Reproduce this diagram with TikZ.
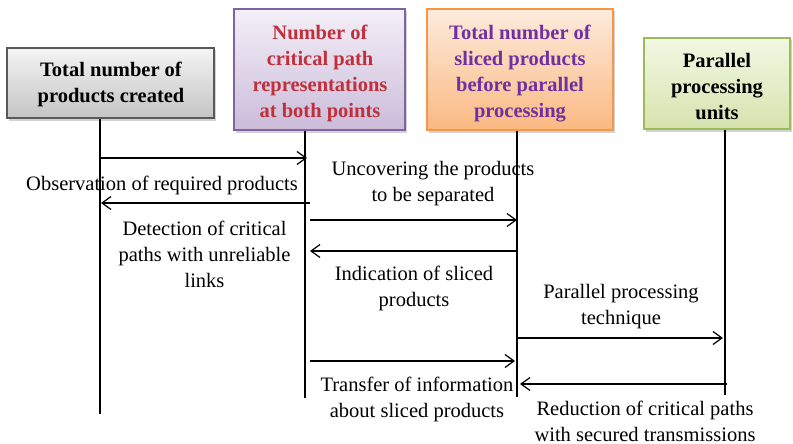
\documentclass[tikz,border=0pt]{standalone}
\usepackage{fontspec}
\setmainfont{Liberation Serif}
\usetikzlibrary{arrows.meta,shadows}
\definecolor{gbord}{HTML}{595959}
\definecolor{gtop}{HTML}{F4F4F4}
\definecolor{gbot}{HTML}{C4C4C4}
\definecolor{pbord}{HTML}{8064A2}
\definecolor{ptop}{HTML}{F4EFF7}
\definecolor{pbot}{HTML}{CBBCDA}
\definecolor{obord}{HTML}{F79646}
\definecolor{otop}{HTML}{FDEBDD}
\definecolor{obot}{HTML}{FAB982}
\definecolor{lbord}{HTML}{9BBB59}
\definecolor{ltop}{HTML}{F3F8E3}
\definecolor{lbot}{HTML}{D5E3AE}
\definecolor{redtxt}{HTML}{C0303C}
\definecolor{purtxt}{HTML}{7030A0}
\begin{document}
\begin{tikzpicture}[x=1pt,y=-1pt,
  every node/.style={font=\fontsize{20.5}{26}\selectfont, align=center, inner sep=0pt},
  headbox/.style={draw, line width=1.2pt,
    drop shadow={shadow xshift=2pt, shadow yshift=-2.5pt, opacity=0.35}},
  headtext/.style={font=\fontsize{20.5}{26}\selectfont\bfseries},
  life/.style={line width=1.2pt},
  msg/.style={line width=1.2pt, -{Straight Barb[length=9pt,width=13pt,line width=1.2pt]}}]
\useasboundingbox (0,0) rectangle (793,444);
% header boxes
\node[headbox, draw=gbord, top color=gtop, bottom color=gbot,
  minimum width=207pt, minimum height=70pt] (b1) at (110.5,83) {};
\node[headbox, draw=pbord, top color=ptop, bottom color=pbot,
  minimum width=171pt, minimum height=121pt] (b2) at (319.5,69.5) {};
\node[headbox, draw=obord, top color=otop, bottom color=obot,
  minimum width=186pt, minimum height=121pt] (b3) at (520,69.5) {};
\node[headbox, draw=lbord, top color=ltop, bottom color=lbot,
  minimum width=146pt, minimum height=91pt] (b4) at (717,83.5) {};
\node[headtext] (h1) at (111,84) {Total number of\\products created};
\node[headtext, text=redtxt] (h2) at (320,73.5) {Number of\\critical path\\representations\\at both points};
\node[headtext, text=purtxt] (h3) at (520,73.5) {Total number of\\sliced products\\before parallel\\processing};
\node[headtext] (h4) at (717,87) {Parallel\\processing\\units};
% lifelines
\coordinate (l1) at (100,414);
\coordinate (l2) at (305,398);
\coordinate (l3) at (517,397);
\coordinate (l4) at (725,395);
\draw[life] (b1.south -| l1) -- (l1);
\draw[life] (b2.south -| l2) -- (l2);
\draw[life] (b3.south -| l3) -- (l3);
\draw[life] (b4.south -| l4) -- (l4);
% message end points
\coordinate (m1s) at (100,158); \coordinate (m1e) at (307,158);
\coordinate (m2s) at (310,203); \coordinate (m2e) at (101,203);
\coordinate (m3s) at (310,220); \coordinate (m3e) at (517,220);
\coordinate (m4s) at (517,251); \coordinate (m4e) at (310,251);
\coordinate (m5s) at (517,338); \coordinate (m5e) at (723,338);
\coordinate (m6s) at (310,361); \coordinate (m6e) at (515,361);
\coordinate (m7s) at (727,384); \coordinate (m7e) at (520,384);
\draw[msg] (m1s) -- (m1e);
\draw[msg] (m2s) -- (m2e);
\draw[msg] (m3s) -- (m3e);
\draw[msg] (m4s) -- (m4e);
\draw[msg] (m5s) -- (m5e);
\draw[msg] (m6s) -- (m6e);
\draw[msg] (m7s) -- (m7e);
% labels
\node (t1) at (162,185) {Observation of required products};
\node (t2) at (433,184) {Uncovering the products\\to be separated};
\node (t3) at (204.5,254) {Detection of critical\\paths with unreliable\\links};
\node (t4) at (414,288) {Indication of sliced\\products};
\node (t5) at (621,306.5) {Parallel processing\\technique};
\node (t6) at (417,399.5) {Transfer of information\\about sliced products};
\node (t7) at (645,421) {Reduction of critical paths\\with secured transmissions};
\end{tikzpicture}
\end{document}
